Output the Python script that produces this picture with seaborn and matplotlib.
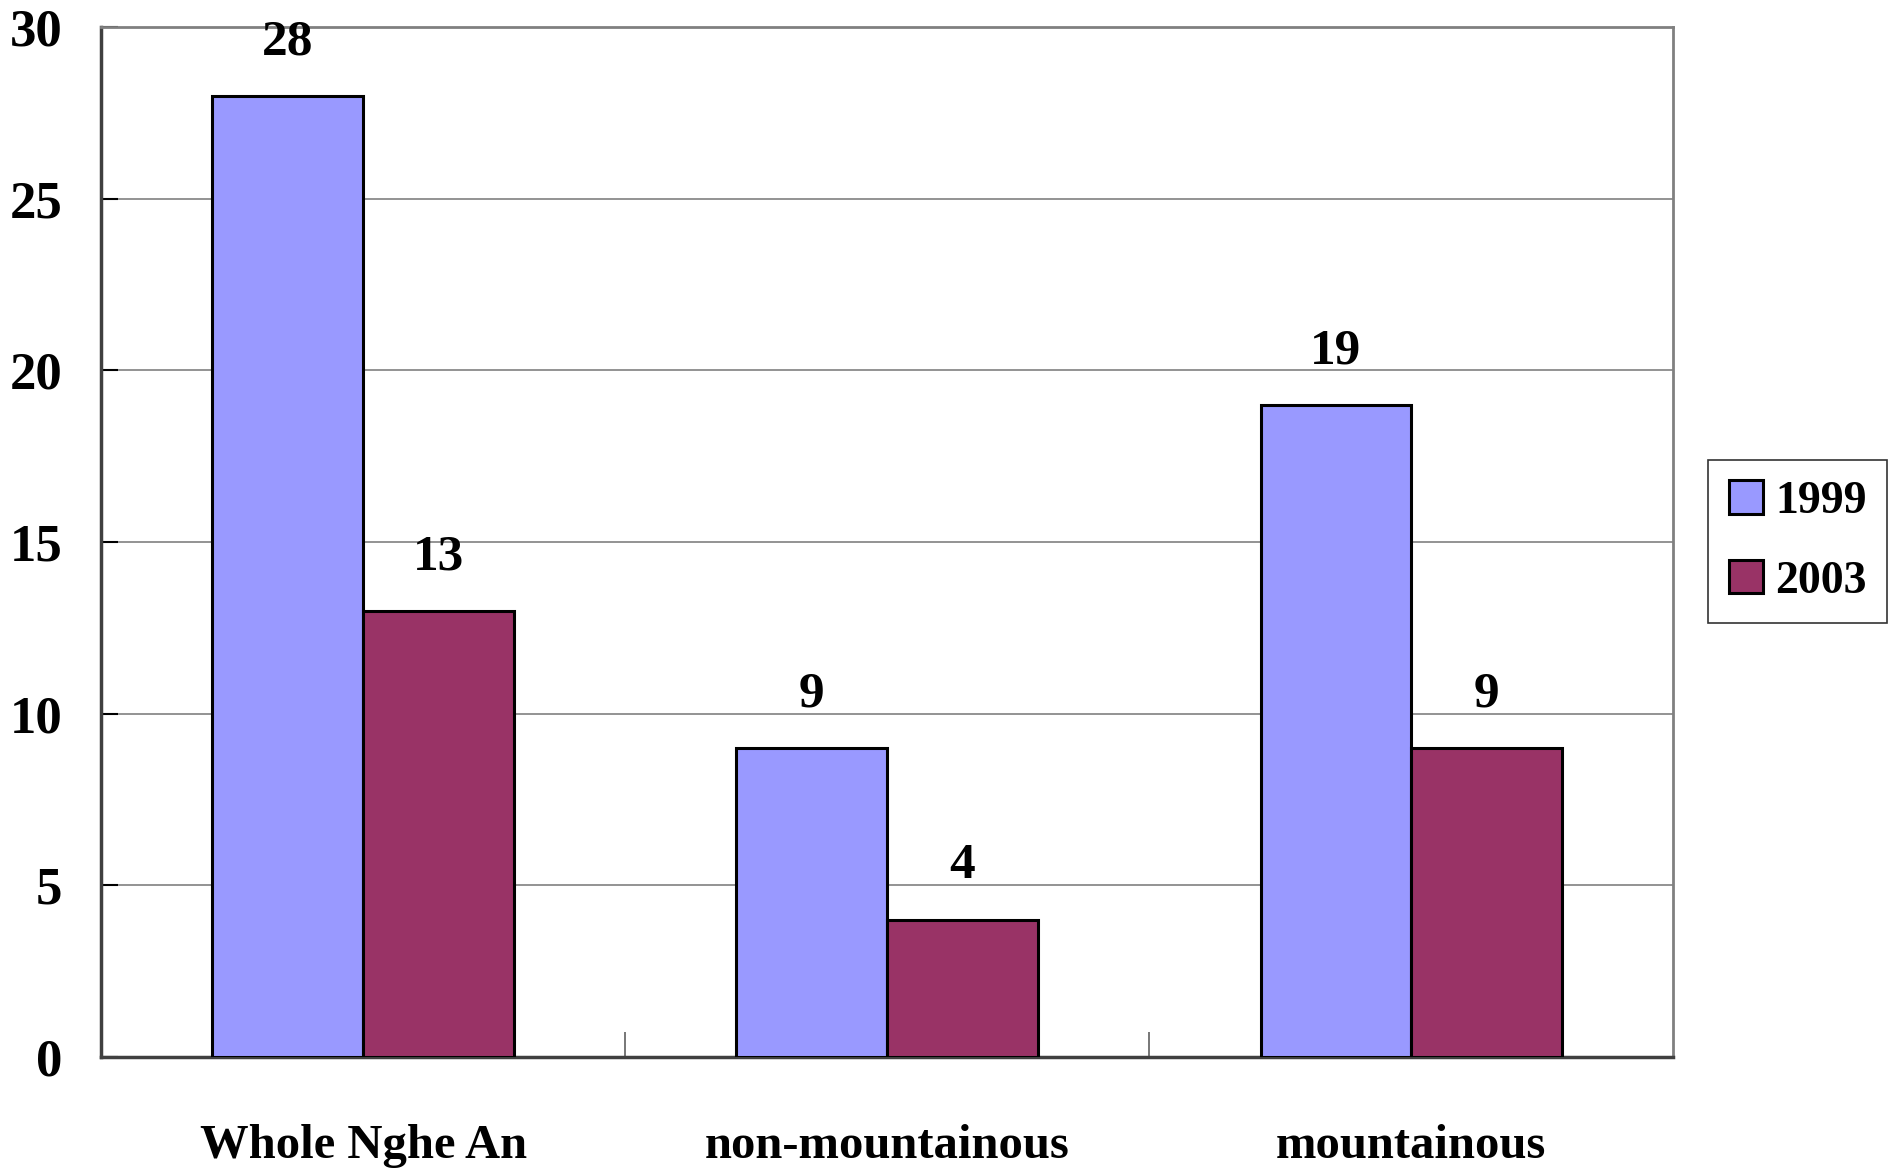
import numpy as np
import pandas as pd
import matplotlib.pyplot as plt
import seaborn as sns

# values
regions = ["Whole Nghe An", "non-mountainous", "mountainous"]
years = ["1999", "2003"]
vals_1999 = [28, 9, 19]
vals_2003 = [13, 4, 9]
colors = ["#9999FF", "#993366"]

df = pd.DataFrame({
    "region": regions * 2,
    "year": [years[0]] * 3 + [years[1]] * 3,
    "value": vals_1999 + vals_2003,
})

sns.set_style("white")
plt.rcParams["font.family"] = ["Liberation Serif", "DejaVu Serif"]
plt.rcParams["font.weight"] = "bold"
plt.rcParams["text.color"] = "black"
plt.rcParams["xtick.color"] = "black"
plt.rcParams["ytick.color"] = "black"

fig = plt.figure(figsize=(18.93, 11.72), dpi=100)
ax = fig.add_axes([0.0534, 0.098, 0.8305, 0.879])

sns.barplot(data=df, x="region", y="value", hue="year", order=regions,
            hue_order=years, palette=colors, saturation=1, width=0.575,
            edgecolor="black", linewidth=2.2, ax=ax, zorder=3)

for c in ax.containers:
    ax.bar_label(c, fmt="%d", padding=22, fontsize=37, fontweight="bold",
                 color="black")

ax.set_xlim(-0.5, 2.5)
ax.set_ylim(0, 30)
ax.set_yticks(range(0, 31, 5))
ax.set_yticklabels([str(v) for v in range(0, 31, 5)], fontsize=38, fontweight="bold")
ax.yaxis.grid(True, color="#808080", linewidth=1.2, zorder=0)
ax.set_axisbelow(True)
ax.tick_params(axis="y", direction="in", length=12, width=1.5, pad=28, left=True)

# category labels placed lower, divider ticks between groups
ax.set_xticks(range(len(regions)))
ax.set_xticklabels(regions, fontsize=35, fontweight="bold")
ax.tick_params(axis="x", length=0, pad=48)
ax.set_xticks([0.5, 1.5], minor=True)
ax.tick_params(axis="x", which="minor", direction="in", length=18, width=1.2,
               color="#606060", bottom=True)

ax.set_xlabel("")
ax.set_ylabel("")

for side in ["top", "right"]:
    ax.spines[side].set_visible(True)
    ax.spines[side].set_color("#808080")
    ax.spines[side].set_linewidth(2)
for side in ["left", "bottom"]:
    ax.spines[side].set_color("#404040")
    ax.spines[side].set_linewidth(2.5)

leg = ax.legend(loc="center left", bbox_to_anchor=(0.9025, 0.538),
                bbox_transform=fig.transFigure, fontsize=33, frameon=True,
                fancybox=False, edgecolor="black", handlelength=0.75,
                handleheight=0.75, handletextpad=0.25, borderpad=0.45,
                labelspacing=0.8, borderaxespad=0)
leg.get_frame().set_linewidth(1.2)
for t in leg.get_texts():
    t.set_fontweight("bold")
    t.set_color("black")

fig.savefig("out.png", dpi=100)
